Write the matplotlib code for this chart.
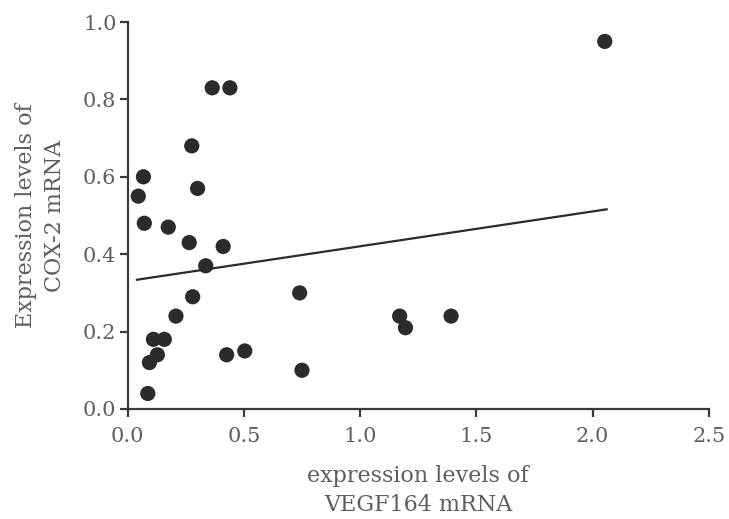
import matplotlib
matplotlib.use("Agg")
import matplotlib.pyplot as plt

# Data
vegf = [0.046, 0.068, 0.072, 0.087, 0.094, 0.111, 0.128, 0.158, 0.175, 0.208,
        0.265, 0.276, 0.280, 0.301, 0.336, 0.364, 0.411, 0.426, 0.440, 0.504,
        0.740, 0.750, 1.170, 1.195, 1.391, 2.052]
cox2 = [0.55, 0.60, 0.48, 0.04, 0.12, 0.18, 0.14, 0.18, 0.47, 0.24,
        0.43, 0.68, 0.29, 0.57, 0.37, 0.83, 0.42, 0.14, 0.83, 0.15,
        0.30, 0.10, 0.24, 0.21, 0.24, 0.95]
line_x = [0.04, 2.06]
line_y = [0.334, 0.516]
xticks = [0.0, 0.5, 1.0, 1.5, 2.0, 2.5]
yticks = [0.0, 0.2, 0.4, 0.6, 0.8, 1.0]

plt.rcParams['font.family'] = ['DejaVu Serif']
txt = '#5e5e5e'
axc = '#3a3a3a'

fig = plt.figure(figsize=(7.29, 5.19), dpi=100)
ax = fig.add_axes([0.175, 0.212, 0.7975, 0.7455])
ax.scatter(vegf, cox2, s=120, color='#2b2b2b', edgecolors='none', zorder=3)
ax.plot(line_x, line_y, color='#2b2b2b', lw=1.6, zorder=2)

ax.set_xlim(0, 2.5)
ax.set_ylim(0, 1.0)
ax.set_xticks(xticks)
ax.set_yticks(yticks)
ax.set_xticklabels([f"{t:.1f}" for t in xticks])
ax.set_yticklabels([f"{t:.1f}" for t in yticks])
for s in ['top', 'right']:
    ax.spines[s].set_visible(False)
for s in ['left', 'bottom']:
    ax.spines[s].set_color(axc)
    ax.spines[s].set_linewidth(1.6)
ax.tick_params(direction='out', length=6, width=1.6, color=axc,
               labelsize=15, labelcolor=txt)
ax.tick_params(axis='x', pad=7)
ax.tick_params(axis='y', pad=2)
ax.set_xlabel("expression levels of\nVEGF164 mRNA", fontsize=16, color=txt,
              labelpad=14, linespacing=1.4)
ax.set_ylabel("Expression levels of\nCOX-2 mRNA", fontsize=16, color=txt,
              labelpad=12, linespacing=1.4)

fig.savefig("out.png", dpi=100)
